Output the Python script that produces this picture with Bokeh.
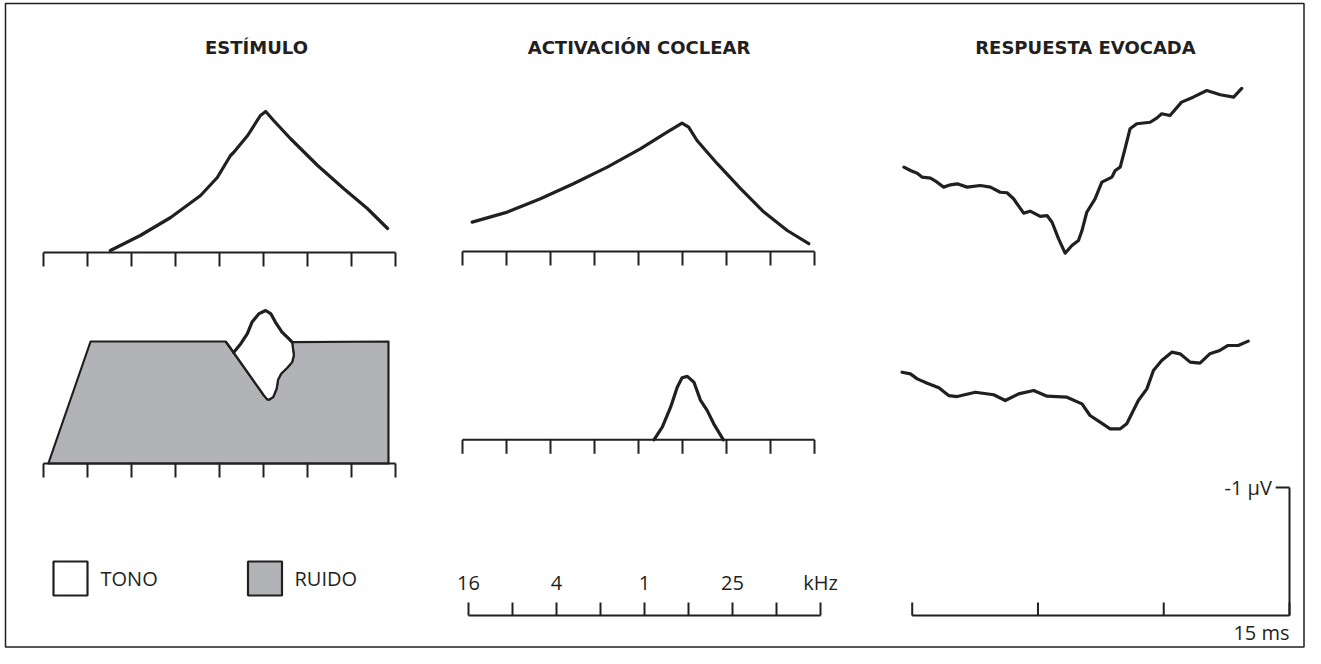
from bokeh.plotting import figure
from bokeh.models import Range1d
from bokeh.core.properties import value
from bokeh.embed import file_html
from bokeh.resources import INLINE

# ---------------- data ----------------
titles = ["ESTÍMULO", "ACTIVACIÓN COCLEAR", "RESPUESTA EVOCADA"]
freq_ticks = [0, 1, 2, 3, 4, 5, 6, 7, 8]
khz_tick_pos = [0, 2, 4, 6, 8]
khz_labels = ["16", "4", "1", "25", "kHz"]
ms_ticks = [0, 5, 10, 15]
ms_label = "15 ms"
uv_label = "-1 µV"
uv_scale = 1.0
legend_labels = ["TONO", "RUIDO"]

# Stimulus: tone alone
tone_stim_freq = [1.52, 2.20, 2.89, 3.57, 3.95, 4.25, 4.32, 4.64, 4.93, 5.05, 5.23, 5.61, 6.23, 6.82, 7.36, 7.82]
tone_stim_level = [1, 8.5, 17.5, 28.5, 37.5, 48.5, 50, 58.5, 68.5, 70.5, 66, 57, 43.5, 32, 22, 12]

# Stimulus: notched noise (polygon) + tone peak
noise_freq = [0.11, 1.07, 4.14, 4.32, 5.01, 5.08, 5.12, 5.22, 5.30, 5.33, 5.40, 5.54, 5.65, 5.69, 5.67, 5.65, 7.84, 7.84]
noise_level = [0, 61, 61, 55.5, 34, 32.2, 31.9, 33.2, 37.5, 41.9, 44.9, 47.9, 50.7, 54, 57.4, 60.7, 61, 0]
tone_peak_freq = [4.32, 4.48, 4.63, 4.74, 4.89, 5.05, 5.17, 5.27, 5.42, 5.58, 5.65]
tone_peak_level = [55.5, 59.8, 64.8, 70.7, 74.8, 76.5, 74.8, 70.7, 65.7, 62.3, 60.7]

# Cochlear activation: tone alone
coch_tone_place = [0.22, 1.02, 1.77, 2.52, 3.29, 4.05, 4.65, 4.99, 5.14, 5.33, 5.79, 6.32, 6.85, 7.38, 7.87]
coch_tone_level = [14.7, 19.7, 26.4, 33.9, 42.2, 51.4, 59.7, 64.2, 62.2, 55.5, 43.9, 31.4, 19.7, 10.5, 3.9]

# Cochlear activation: tone in notched noise
coch_notch_place = [4.35, 4.54, 4.73, 4.88, 4.99, 5.11, 5.26, 5.41, 5.56, 5.71, 5.93]
coch_notch_level = [0, 6.3, 16.3, 26.3, 31, 31.7, 28.8, 19.7, 14.7, 8, 0]

# Evoked responses (time in ms, amplitude in uV, negative plotted up)
resp_a_t = [-0.33, -0.07, 0.20, 0.40, 0.73, 0.99, 1.25, 1.52, 1.79, 2.18, 2.71, 3.11, 3.50, 3.77, 4.03,
            4.43, 4.69, 5.09, 5.36, 5.56, 5.82, 6.08, 6.35, 6.61, 6.75, 6.94, 7.27, 7.54, 7.94, 8.07,
            8.27, 8.46, 8.66, 8.93, 9.46, 9.72, 9.92, 10.25, 10.71, 11.17, 11.71, 12.25, 12.78, 13.10]
resp_a_v = [0.026, 0.0, -0.021, -0.052, -0.060, -0.091, -0.130, -0.112, -0.104, -0.130, -0.117, -0.130,
            -0.170, -0.174, -0.221, -0.333, -0.318, -0.359, -0.352, -0.404, -0.534, -0.646, -0.586,
            -0.547, -0.469, -0.326, -0.221, -0.091, -0.052, 0.0, 0.026, 0.169, 0.326, 0.365, 0.377,
            0.409, 0.443, 0.430, 0.534, 0.573, 0.625, 0.592, 0.573, 0.641]
resp_b_t = [-0.40, -0.07, 0.20, 0.60, 1.06, 1.45, 1.79, 2.51, 3.24, 3.70, 4.23, 4.83, 5.36, 6.15, 6.75,
            7.07, 7.47, 7.87, 8.27, 8.53, 8.99, 9.33, 9.59, 9.92, 10.32, 10.65, 11.05, 11.44, 11.83,
            12.23, 12.56, 12.96, 13.36]
resp_b_v = [0.002, -0.011, -0.050, -0.084, -0.120, -0.180, -0.188, -0.154, -0.174, -0.219, -0.167,
            -0.141, -0.185, -0.193, -0.245, -0.336, -0.388, -0.440, -0.440, -0.401, -0.219, -0.128,
            0.016, 0.094, 0.159, 0.146, 0.081, 0.073, 0.146, 0.172, 0.211, 0.211, 0.245]

# ---------------- layout / style ----------------
W, H = 1305, 648
XL, XR = 0, W
YB, YT = H, 0
INK = "#231F20"
GRAY = "#B1B3B6"


def rng(d0, d1, s0, s1, e0, e1):
    k = (d1 - d0) / (s1 - s0)
    return Range1d(start=d0 + (e0 - s0) * k, end=d0 + (e1 - s0) * k)


p = figure(width=W, height=H, output_backend="svg", toolbar_location=None,
           x_range=Range1d(XL, XR), y_range=Range1d(YB, YT),
           x_axis_type=None, y_axis_type=None, min_border=0)
p.grid.visible = False
p.outline_line_color = None
p.background_fill_color = "white"
p.border_fill_color = "white"

p.extra_x_ranges = {
    "stim": rng(0, 8, 43, 395, XL, XR),
    "coch": rng(0, 8, 462, 814, XL, XR),
    "khz": rng(0, 8, 468, 820, XL, XR),
    "ms": rng(0, 15, 911.7, 1289, XL, XR),
}
p.extra_y_ranges = {
    "stimA": rng(0, 70, 252, 112, YB, YT),
    "stimB": rng(0, 70, 463, 323, YB, YT),
    "cochC": rng(0, 70, 251, 111, YB, YT),
    "cochD": rng(0, 70, 439.3, 299.3, YB, YT),
    "respA": rng(0, 1, 170, 42, YB, YT),
    "respB": rng(0, 1, 372, 244, YB, YT),
    "scale": rng(0, 1, 615, 487, YB, YT),
}

AX_W = 2
CURVE_W = 3.2
FONT = value("Open Sans")

# frame border
p.quad(left=[5], right=[W - 1.5], top=[3], bottom=[H - 1.5], fill_color=None,
       line_color=INK, line_width=1.5)


def tick_axis(xr, base_y, tick_len, ticks):
    p.line(x=[ticks[0], ticks[-1]], y=[base_y, base_y], x_range_name=xr,
           line_color=INK, line_width=AX_W)
    p.segment(x0=ticks, x1=ticks, y0=[base_y] * len(ticks), y1=[base_y + tick_len] * len(ticks),
              x_range_name=xr, line_color=INK, line_width=AX_W)


# Panel A: stimulus tone
p.line(tone_stim_freq, tone_stim_level, x_range_name="stim", y_range_name="stimA",
       line_color=INK, line_width=CURVE_W, line_join="round", line_cap="round")
tick_axis("stim", 252, 14, freq_ticks)

# Panel B: notched noise + tone
p.patch(noise_freq, noise_level, x_range_name="stim", y_range_name="stimB",
        fill_color=GRAY, line_color=INK, line_width=2.2, line_join="round")
notch = list(zip(noise_freq[3:16], noise_level[3:16]))[::-1]
tone_fill_x = tone_peak_freq + [a for a, b in notch]
tone_fill_y = tone_peak_level + [b for a, b in notch]
p.patch(tone_fill_x, tone_fill_y, x_range_name="stim", y_range_name="stimB",
        fill_color="white", line_color=None)
p.line(noise_freq[2:16], noise_level[2:16], x_range_name="stim", y_range_name="stimB",
       line_color=INK, line_width=2.2, line_join="round")
p.line(tone_peak_freq, tone_peak_level, x_range_name="stim", y_range_name="stimB",
       line_color=INK, line_width=CURVE_W, line_join="round", line_cap="round")
tick_axis("stim", 463, 14, freq_ticks)

# Panel C: cochlear activation (tone)
p.line(coch_tone_place, coch_tone_level, x_range_name="coch", y_range_name="cochC",
       line_color=INK, line_width=CURVE_W, line_join="round", line_cap="round")
tick_axis("coch", 251, 14, freq_ticks)

# Panel D: cochlear activation (tone in notched noise)
p.line(coch_notch_place, coch_notch_level, x_range_name="coch", y_range_name="cochD",
       line_color=INK, line_width=CURVE_W, line_join="round", line_cap="round")
tick_axis("coch", 439.3, 14, freq_ticks)

# Panel E: kHz axis
tick_axis("khz", 615, -13, freq_ticks)
p.text(x=khz_tick_pos, y=[582] * len(khz_tick_pos), text=khz_labels, x_range_name="khz",
       text_font=FONT, text_font_size="20px", text_color=INK,
       text_align="center", text_baseline="middle")

# Panel F: evoked responses + scale bar
p.line(resp_a_t, resp_a_v, x_range_name="ms", y_range_name="respA",
       line_color=INK, line_width=CURVE_W, line_join="round", line_cap="round")
p.line(resp_b_t, resp_b_v, x_range_name="ms", y_range_name="respB",
       line_color=INK, line_width=CURVE_W, line_join="round", line_cap="round")
tick_axis("ms", 615, -13, ms_ticks)
p.line(x=[ms_ticks[-1], ms_ticks[-1]], y=[0, uv_scale], x_range_name="ms", y_range_name="scale",
       line_color=INK, line_width=AX_W)
p.line(x=[ms_ticks[-1] - 0.55, ms_ticks[-1]], y=[uv_scale, uv_scale], x_range_name="ms",
       y_range_name="scale", line_color=INK, line_width=AX_W)
p.text(x=[ms_ticks[-1] - 0.7], y=[uv_scale], text=[uv_label], x_range_name="ms", y_range_name="scale",
       text_font=FONT, text_font_size="20px", text_color=INK,
       text_align="right", text_baseline="middle")
p.text(x=[ms_ticks[-1]], y=[632], text=[ms_label], x_range_name="ms",
       text_font=FONT, text_font_size="20px", text_color=INK,
       text_align="right", text_baseline="middle")

# Titles
p.text(x=[256, 638.5, 1085], y=[47, 47, 47], text=titles,
       text_font=value("DejaVu Sans"), text_font_style="bold", text_font_size="18px",
       text_color=INK, text_align="center", text_baseline="middle")

# Legend
p.rect(x=[70, 264.5], y=[578, 578], width=34, height=34, fill_color=["white", GRAY],
       line_color=INK, line_width=2.2)
p.text(x=[100, 294], y=[578, 578], text=legend_labels,
       text_font=FONT, text_font_size="20px", text_color=INK,
       text_align="left", text_baseline="middle")

open("out.html", "w").write(file_html(p, INLINE))
